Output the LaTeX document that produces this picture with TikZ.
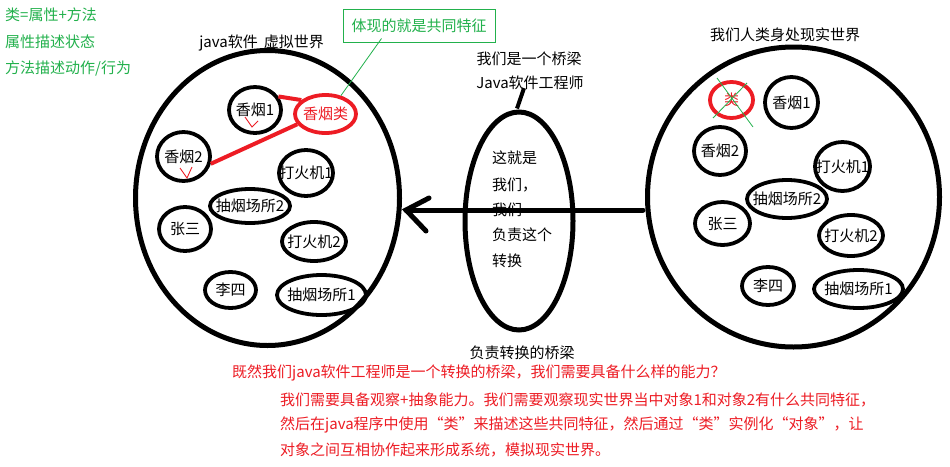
\documentclass[tikz,border=0pt]{standalone}
\usepackage{fontspec}
\newfontfamily\cjk{Noto Sans CJK SC}
\usetikzlibrary{shapes.geometric,calc}
\definecolor{pgreen}{RGB}{34,177,76}
\definecolor{pred}{RGB}{237,28,36}
\tikzset{
  txt/.style={font=\cjk\fontsize{15}{18}\selectfont, inner sep=0pt},
  world/.style 2 args={draw, ellipse, line width=5pt, minimum width=#1, minimum height=#2},
  obj/.style 2 args={draw, ellipse, line width=3.8pt, minimum width=#1, minimum height=#2},
  robj/.style 2 args={obj={#1}{#2}, draw=pred},
  redline/.style={draw=pred, line width=4pt},
  thinred/.style={draw=pred, line width=0.9pt},
  thingreen/.style={draw=pgreen, line width=0.8pt},
  bigline/.style={line width=5pt, line cap=round},
  gtxt/.style={txt, text=pgreen},
  rtxt/.style={txt, text=pred},
}
\begin{document}
\begin{tikzpicture}[x=1pt,y=-1pt, every label/.style={txt}]
\useasboundingbox[fill=white] (0,0) rectangle (950,466);

% green notes
\node[gtxt, anchor=west] (n1) at (5,15) {类=属性+方法};
\node[gtxt, anchor=west] (n2) at (5,42) {属性描述状态};
\node[gtxt, anchor=west] (n3) at (5,68) {方法描述动作/行为};

% worlds
\node[world={264pt}{295pt}] (L) at (267.5,198) {};
\node[world={292pt}{300pt}] (R) at (793.5,197) {};
\node[world={108pt}{218pt}] (M) at (519,221) {};

% titles
\node[txt] (tL) at (261.5,43) {java软件\hspace{6pt}虚拟世界};
\node[txt] (tR) at (785,35) {我们人类身处现实世界};
\node[txt] (tM1) at (529,59) {我们是一个桥梁};
\node[txt] (tM2) at (530,83) {Java软件工程师};
\node[txt] (tM3) at (522,353) {负责转换的桥梁};

% middle text
\node[txt, anchor=west] (m1) at (492,158) {这就是};
\node[txt, anchor=west] (m2) at (492,185) {我们，};
\node[txt, anchor=west] (m3) at (492,210) {我们};
\node[txt, anchor=west] (m4) at (492,235) {负责这个};
\node[txt, anchor=west] (m5) at (492,261) {转换};

% left world objects
\node[obj={52pt}{46pt}, label={center:香烟1}] (l1) at (255,110) {};
\node[robj={61pt}{38pt}, label={[text=pred]center:香烟类}] (lc) at (325.5,114) {};
\node[obj={53pt}{49pt}, label={center:香烟2}] (l2) at (183.5,156.5) {};
\node[obj={54pt}{46pt}, label={center:打火机1}] (lh1) at (306,173) {};
\node[obj={80pt}{34pt}, label={center:抽烟场所2}] (lp2) at (250,206) {};
\node[obj={52pt}{44pt}, label={center:张三}] (lz) at (185,229) {};
\node[obj={64pt}{39pt}, label={center:打火机2}] (lh2) at (314,241.5) {};
\node[obj={51pt}{36pt}, label={center:李四}] (ll) at (230.5,290) {};
\node[obj={89pt}{40pt}, label={center:抽烟场所1}] (lp1) at (321.5,295) {};

% red connectors
\draw[redline] (l1.30) -- (lc.150);
\draw[redline] (l2.-15) -- (lc.200);
% check marks
\draw[thinred] (245,117) -- (252,127) -- (258,121);
\draw[thinred] (180,168) -- (187,178) -- (192,167);

% green box
\node[draw=pgreen, line width=1pt, minimum width=152pt, minimum height=33pt, gtxt] (gbox) at (419,25.5) {体现的就是共同特征};
\draw[thingreen] ($(gbox.south west)+(39,-4)$) -- (lc.50);

% right world objects
\node[robj={43pt}{36pt}, label={[text=pred]center:类}] (rc) at (731.5,100) {};
\node[obj={53pt}{51pt}, label={center:香烟1}] (r1) at (791.5,102.5) {};
\node[obj={52pt}{48pt}, label={center:香烟2}] (r2) at (720,151) {};
\node[obj={55pt}{49pt}, label={center:打火机1}] (rh1) at (842.5,166.5) {};
\node[obj={80pt}{38pt}, label={center:抽烟场所2}] (rp2) at (787,199) {};
\node[obj={55pt}{43pt}, label={center:张三}] (rz) at (722.5,223.5) {};
\node[obj={64pt}{41pt}, label={center:打火机2}] (rh2) at (851,235.5) {};
\node[obj={52pt}{38pt}, label={center:李四}] (rl) at (768,286) {};
\node[obj={89pt}{38pt}, label={center:抽烟场所1}] (rp1) at (858.5,289) {};
% green cross over 类
\draw[thingreen] (717,78) -- (753,127);
\draw[thingreen] (747,83) -- (713,118);

% arrow right world -> left world
\coordinate (tail) at (643,210);
\coordinate (tip) at (406,210);
\draw[bigline] (tail) -- (tip);
\draw[bigline] (429,198) -- (tip) -- (426,231);
% bridge pointer
\draw[line width=4pt] ($(tM2.south)+(-6,-2)$) -- ($(M.north)+(-2,-1)$);

% bottom red text
\node[rtxt, anchor=west] (b1) at (232,373) {既然我们java软件工程师是一个转换的桥梁，我们需要具备什么样的能力？};
\node[rtxt, anchor=west] (b2) at (280,400) {我们需要具备观察+抽象能力。我们需要观察现实世界当中对象1和对象2有什么共同特征，};
\node[rtxt, anchor=west] (b3) at (280,425) {然后在java程序中使用“类”来描述这些共同特征，然后通过“类”实例化“对象”，让};
\node[rtxt, anchor=west] (b4) at (280,450) {对象之间互相协作起来形成系统，模拟现实世界。};
\end{tikzpicture}
\end{document}
